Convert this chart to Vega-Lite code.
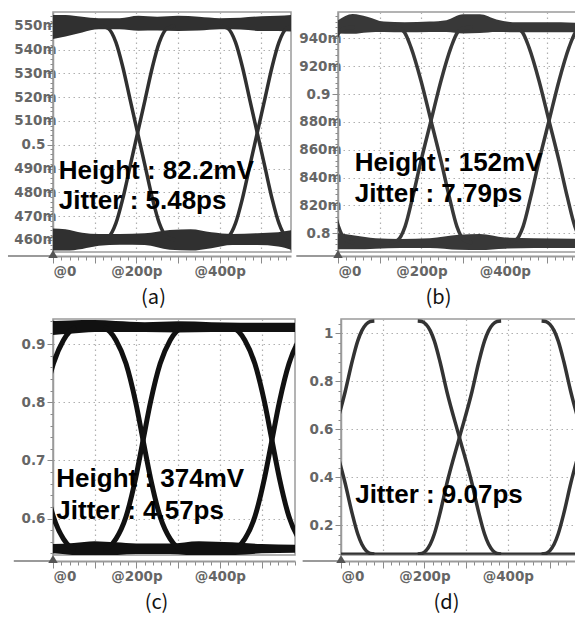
{
  "$schema": "https://vega.github.io/schema/vega-lite/v6.json",
  "background": "white",
  "padding": {"top": 8, "left": 0, "right": 0, "bottom": 0},
  "datasets": {
    "a_band": [
      {"band":"top","t":0,"v":0.5445,"v2":0.5545},{"band":"top","t":30,"v":0.5455,"v2":0.5545},{"band":"top","t":70,"v":0.5472,"v2":0.5538},{"band":"top","t":110,"v":0.5485,"v2":0.5532},{"band":"top","t":160,"v":0.5485,"v2":0.5532},{"band":"top","t":205,"v":0.5479,"v2":0.5542},{"band":"top","t":250,"v":0.548,"v2":0.5538},{"band":"top","t":300,"v":0.5478,"v2":0.5542},{"band":"top","t":350,"v":0.548,"v2":0.5538},{"band":"top","t":400,"v":0.5486,"v2":0.5532},{"band":"top","t":450,"v":0.5484,"v2":0.5534},{"band":"top","t":500,"v":0.5478,"v2":0.554},{"band":"top","t":540,"v":0.5478,"v2":0.5542},{"band":"top","t":571,"v":0.5476,"v2":0.5545},
      {"band":"bottom","t":0,"v":0.4555,"v2":0.4648},{"band":"bottom","t":30,"v":0.4555,"v2":0.4645},{"band":"bottom","t":70,"v":0.4562,"v2":0.463},{"band":"bottom","t":110,"v":0.4575,"v2":0.4625},{"band":"bottom","t":160,"v":0.458,"v2":0.4625},{"band":"bottom","t":220,"v":0.4578,"v2":0.4628},{"band":"bottom","t":280,"v":0.4558,"v2":0.4642},{"band":"bottom","t":330,"v":0.4555,"v2":0.4645},{"band":"bottom","t":380,"v":0.4565,"v2":0.4632},{"band":"bottom","t":430,"v":0.4578,"v2":0.4625},{"band":"bottom","t":490,"v":0.4578,"v2":0.4628},{"band":"bottom","t":540,"v":0.4572,"v2":0.4632},{"band":"bottom","t":571,"v":0.4558,"v2":0.464}
    ],
    "a_edge": [
      {"id":"f0","t":-102,"v":0.519},{"id":"f0","t":-84,"v":0.505},{"id":"f0","t":-66,"v":0.491},{"id":"f0","t":-48,"v":0.477},{"id":"f0","t":-32,"v":0.467},{"id":"f0","t":-14,"v":0.4612},{"id":"f0","t":6,"v":0.46},
      {"id":"r0","t":-102,"v":0.491},{"id":"r0","t":-84,"v":0.505},{"id":"r0","t":-66,"v":0.519},{"id":"r0","t":-48,"v":0.533},{"id":"r0","t":-32,"v":0.543},{"id":"r0","t":-14,"v":0.5488},{"id":"r0","t":6,"v":0.55},
      {"id":"f1","t":113,"v":0.55},{"id":"f1","t":133,"v":0.5488},{"id":"f1","t":151,"v":0.543},{"id":"f1","t":167,"v":0.533},{"id":"f1","t":185,"v":0.519},{"id":"f1","t":203,"v":0.505},{"id":"f1","t":221,"v":0.491},{"id":"f1","t":239,"v":0.477},{"id":"f1","t":255,"v":0.467},{"id":"f1","t":273,"v":0.4612},{"id":"f1","t":293,"v":0.46},
      {"id":"r1","t":113,"v":0.46},{"id":"r1","t":133,"v":0.4612},{"id":"r1","t":151,"v":0.467},{"id":"r1","t":167,"v":0.477},{"id":"r1","t":185,"v":0.491},{"id":"r1","t":203,"v":0.505},{"id":"r1","t":221,"v":0.519},{"id":"r1","t":239,"v":0.533},{"id":"r1","t":255,"v":0.543},{"id":"r1","t":273,"v":0.5488},{"id":"r1","t":293,"v":0.55},
      {"id":"f2","t":400,"v":0.55},{"id":"f2","t":420,"v":0.5488},{"id":"f2","t":438,"v":0.543},{"id":"f2","t":454,"v":0.533},{"id":"f2","t":472,"v":0.519},{"id":"f2","t":490,"v":0.505},{"id":"f2","t":508,"v":0.491},{"id":"f2","t":526,"v":0.477},{"id":"f2","t":542,"v":0.467},{"id":"f2","t":560,"v":0.4612},{"id":"f2","t":580,"v":0.46},
      {"id":"r2","t":400,"v":0.46},{"id":"r2","t":420,"v":0.4612},{"id":"r2","t":438,"v":0.467},{"id":"r2","t":454,"v":0.477},{"id":"r2","t":472,"v":0.491},{"id":"r2","t":490,"v":0.505},{"id":"r2","t":508,"v":0.519},{"id":"r2","t":526,"v":0.533},{"id":"r2","t":542,"v":0.543},{"id":"r2","t":560,"v":0.5488},{"id":"r2","t":580,"v":0.55}
    ],
    "a_note": [
      {"t":14,"v":0.4856,"label":"Height : 82.2mV"},
      {"t":14,"v":0.473,"label":"Jitter : 5.48ps"}
    ],
    "a_axis": [{"t":-108,"t2":0,"v":0.4549}],
    "b_band": [
      {"band":"top","t":0,"v":0.9435,"v2":0.953},{"band":"top","t":35,"v":0.9432,"v2":0.9575},{"band":"top","t":70,"v":0.9442,"v2":0.9555},{"band":"top","t":110,"v":0.9445,"v2":0.952},{"band":"top","t":160,"v":0.9443,"v2":0.9515},{"band":"top","t":220,"v":0.9445,"v2":0.952},{"band":"top","t":260,"v":0.9445,"v2":0.953},{"band":"top","t":300,"v":0.9435,"v2":0.9572},{"band":"top","t":340,"v":0.9438,"v2":0.9572},{"band":"top","t":380,"v":0.9445,"v2":0.9535},{"band":"top","t":430,"v":0.9443,"v2":0.9515},{"band":"top","t":500,"v":0.9443,"v2":0.9515},{"band":"top","t":576,"v":0.9443,"v2":0.9512},
      {"band":"bottom","t":0,"v":0.7885,"v2":0.8},{"band":"bottom","t":40,"v":0.7885,"v2":0.7985},{"band":"bottom","t":90,"v":0.789,"v2":0.7965},{"band":"bottom","t":150,"v":0.7895,"v2":0.796},{"band":"bottom","t":220,"v":0.7895,"v2":0.7965},{"band":"bottom","t":290,"v":0.7882,"v2":0.799},{"band":"bottom","t":340,"v":0.788,"v2":0.7995},{"band":"bottom","t":400,"v":0.789,"v2":0.797},{"band":"bottom","t":470,"v":0.7895,"v2":0.7965},{"band":"bottom","t":576,"v":0.7895,"v2":0.796}
    ],
    "b_edge": [
      {"id":"f0","t":-85,"v":0.9096},{"id":"f0","t":-61,"v":0.8808},{"id":"f0","t":-37,"v":0.852},{"id":"f0","t":-17,"v":0.826},{"id":"f0","t":1,"v":0.805},{"id":"f0","t":19,"v":0.795},{"id":"f0","t":39,"v":0.793},
      {"id":"r0","t":-85,"v":0.852},{"id":"r0","t":-61,"v":0.8808},{"id":"r0","t":-37,"v":0.9096},{"id":"r0","t":-13,"v":0.9335},{"id":"r0","t":3,"v":0.9445},{"id":"r0","t":19,"v":0.9475},{"id":"r0","t":39,"v":0.948},
      {"id":"f1","t":123,"v":0.948},{"id":"f1","t":143,"v":0.9475},{"id":"f1","t":159,"v":0.9445},{"id":"f1","t":175,"v":0.9335},{"id":"f1","t":199,"v":0.9096},{"id":"f1","t":223,"v":0.8808},{"id":"f1","t":247,"v":0.852},{"id":"f1","t":267,"v":0.826},{"id":"f1","t":285,"v":0.805},{"id":"f1","t":303,"v":0.795},{"id":"f1","t":323,"v":0.793},
      {"id":"r1","t":123,"v":0.793},{"id":"r1","t":143,"v":0.795},{"id":"r1","t":161,"v":0.805},{"id":"r1","t":179,"v":0.826},{"id":"r1","t":199,"v":0.852},{"id":"r1","t":223,"v":0.8808},{"id":"r1","t":247,"v":0.9096},{"id":"r1","t":271,"v":0.9335},{"id":"r1","t":287,"v":0.9445},{"id":"r1","t":303,"v":0.9475},{"id":"r1","t":323,"v":0.948},
      {"id":"f2","t":406,"v":0.948},{"id":"f2","t":426,"v":0.9475},{"id":"f2","t":442,"v":0.9445},{"id":"f2","t":458,"v":0.9335},{"id":"f2","t":482,"v":0.9096},{"id":"f2","t":506,"v":0.8808},{"id":"f2","t":530,"v":0.852},{"id":"f2","t":550,"v":0.826},{"id":"f2","t":568,"v":0.805},{"id":"f2","t":586,"v":0.795},{"id":"f2","t":606,"v":0.793},
      {"id":"r2","t":406,"v":0.793},{"id":"r2","t":426,"v":0.795},{"id":"r2","t":444,"v":0.805},{"id":"r2","t":462,"v":0.826},{"id":"r2","t":482,"v":0.852},{"id":"r2","t":506,"v":0.8808},{"id":"r2","t":530,"v":0.9096},{"id":"r2","t":554,"v":0.9335},{"id":"r2","t":570,"v":0.9445},{"id":"r2","t":586,"v":0.9475},{"id":"r2","t":606,"v":0.948}
    ],
    "b_note": [
      {"t":40,"v":0.845,"label":"Height : 152mV"},
      {"t":40,"v":0.8223,"label":"Jitter : 7.79ps"}
    ],
    "b_axis": [{"t":-100,"t2":0,"v":0.7866}],
    "c_band": [
      {"band":"top","t":0,"v":0.916,"v2":0.94},{"band":"top","t":40,"v":0.918,"v2":0.941},{"band":"top","t":100,"v":0.921,"v2":0.9415},{"band":"top","t":150,"v":0.921,"v2":0.94},{"band":"top","t":220,"v":0.921,"v2":0.938},{"band":"top","t":300,"v":0.92,"v2":0.9395},{"band":"top","t":380,"v":0.921,"v2":0.938},{"band":"top","t":450,"v":0.921,"v2":0.937},{"band":"top","t":530,"v":0.921,"v2":0.937},{"band":"top","t":581,"v":0.921,"v2":0.937},
      {"band":"bottom","t":0,"v":0.54,"v2":0.556},{"band":"bottom","t":50,"v":0.537,"v2":0.558},{"band":"bottom","t":100,"v":0.535,"v2":0.561},{"band":"bottom","t":150,"v":0.537,"v2":0.559},{"band":"bottom","t":200,"v":0.539,"v2":0.557},{"band":"bottom","t":280,"v":0.539,"v2":0.557},{"band":"bottom","t":350,"v":0.536,"v2":0.561},{"band":"bottom","t":430,"v":0.537,"v2":0.559},{"band":"bottom","t":500,"v":0.54,"v2":0.556},{"band":"bottom","t":581,"v":0.541,"v2":0.555}
    ],
    "c_edge": [
      {"id":"f0","t":-58,"v":0.8009},{"id":"f0","t":-40,"v":0.7348},{"id":"f0","t":-22,"v":0.6689},{"id":"f0","t":1,"v":0.603},{"id":"f0","t":25,"v":0.565},{"id":"f0","t":40,"v":0.552},{"id":"f0","t":55,"v":0.548},
      {"id":"r0","t":-58,"v":0.6689},{"id":"r0","t":-40,"v":0.7348},{"id":"r0","t":-22,"v":0.8009},{"id":"r0","t":1,"v":0.8666},{"id":"r0","t":25,"v":0.907},{"id":"r0","t":40,"v":0.922},{"id":"r0","t":55,"v":0.929},
      {"id":"f1","t":121,"v":0.929},{"id":"f1","t":136,"v":0.922},{"id":"f1","t":151,"v":0.907},{"id":"f1","t":175,"v":0.8666},{"id":"f1","t":198,"v":0.8009},{"id":"f1","t":216,"v":0.7348},{"id":"f1","t":234,"v":0.6689},{"id":"f1","t":257,"v":0.603},{"id":"f1","t":281,"v":0.565},{"id":"f1","t":296,"v":0.552},{"id":"f1","t":311,"v":0.548},
      {"id":"r1","t":121,"v":0.548},{"id":"r1","t":136,"v":0.552},{"id":"r1","t":151,"v":0.565},{"id":"r1","t":175,"v":0.603},{"id":"r1","t":198,"v":0.6689},{"id":"r1","t":216,"v":0.7348},{"id":"r1","t":234,"v":0.8009},{"id":"r1","t":257,"v":0.8666},{"id":"r1","t":281,"v":0.907},{"id":"r1","t":296,"v":0.922},{"id":"r1","t":311,"v":0.929},
      {"id":"f2","t":430,"v":0.929},{"id":"f2","t":445,"v":0.922},{"id":"f2","t":460,"v":0.907},{"id":"f2","t":484,"v":0.8666},{"id":"f2","t":507,"v":0.8009},{"id":"f2","t":525,"v":0.7348},{"id":"f2","t":543,"v":0.6689},{"id":"f2","t":566,"v":0.603},{"id":"f2","t":590,"v":0.565},{"id":"f2","t":605,"v":0.552},{"id":"f2","t":620,"v":0.548},
      {"id":"r2","t":430,"v":0.548},{"id":"r2","t":445,"v":0.552},{"id":"r2","t":460,"v":0.565},{"id":"r2","t":484,"v":0.603},{"id":"r2","t":507,"v":0.6689},{"id":"r2","t":525,"v":0.7348},{"id":"r2","t":543,"v":0.8009},{"id":"r2","t":566,"v":0.8666},{"id":"r2","t":590,"v":0.907},{"id":"r2","t":605,"v":0.922},{"id":"r2","t":620,"v":0.929}
    ],
    "c_note": [
      {"t":8,"v":0.6546,"label":"Height : 374mV"},
      {"t":8,"v":0.6,"label":"Jitter : 4.57ps"}
    ],
    "c_axis": [{"t":-94,"t2":0,"v":0.5372}],
    "d_band": [
      {"band":"bottom","t":0,"v":0.077,"v2":0.0855},{"band":"bottom","t":300,"v":0.077,"v2":0.0855},{"band":"bottom","t":586,"v":0.077,"v2":0.0855}
    ],
    "d_edge": [
      {"id":"f0","t":-50,"v":0.757},{"id":"f0","t":-20,"v":0.566},{"id":"f0","t":10,"v":0.375},{"id":"f0","t":27,"v":0.247},{"id":"f0","t":40,"v":0.164},{"id":"f0","t":50,"v":0.12},{"id":"f0","t":60,"v":0.094},{"id":"f0","t":70,"v":0.082},{"id":"f0","t":80,"v":0.08},
      {"id":"r0","t":-50,"v":0.375},{"id":"r0","t":-20,"v":0.566},{"id":"r0","t":10,"v":0.757},{"id":"r0","t":27,"v":0.885},{"id":"r0","t":40,"v":0.968},{"id":"r0","t":50,"v":1.012},{"id":"r0","t":60,"v":1.038},{"id":"r0","t":70,"v":1.05},{"id":"r0","t":80,"v":1.052},
      {"id":"f1","t":184,"v":1.052},{"id":"f1","t":194,"v":1.05},{"id":"f1","t":204,"v":1.038},{"id":"f1","t":214,"v":1.012},{"id":"f1","t":224,"v":0.968},{"id":"f1","t":237,"v":0.885},{"id":"f1","t":254,"v":0.757},{"id":"f1","t":284,"v":0.566},{"id":"f1","t":314,"v":0.375},{"id":"f1","t":331,"v":0.247},{"id":"f1","t":344,"v":0.164},{"id":"f1","t":354,"v":0.12},{"id":"f1","t":364,"v":0.094},{"id":"f1","t":374,"v":0.082},{"id":"f1","t":384,"v":0.08},
      {"id":"r1","t":184,"v":0.08},{"id":"r1","t":194,"v":0.082},{"id":"r1","t":204,"v":0.094},{"id":"r1","t":214,"v":0.12},{"id":"r1","t":224,"v":0.164},{"id":"r1","t":237,"v":0.247},{"id":"r1","t":254,"v":0.375},{"id":"r1","t":284,"v":0.566},{"id":"r1","t":314,"v":0.757},{"id":"r1","t":331,"v":0.885},{"id":"r1","t":344,"v":0.968},{"id":"r1","t":354,"v":1.012},{"id":"r1","t":364,"v":1.038},{"id":"r1","t":374,"v":1.05},{"id":"r1","t":384,"v":1.052},
      {"id":"f2","t":481,"v":1.052},{"id":"f2","t":491,"v":1.05},{"id":"f2","t":501,"v":1.038},{"id":"f2","t":511,"v":1.012},{"id":"f2","t":521,"v":0.968},{"id":"f2","t":534,"v":0.885},{"id":"f2","t":551,"v":0.757},{"id":"f2","t":581,"v":0.566},{"id":"f2","t":611,"v":0.375},
      {"id":"r2","t":481,"v":0.08},{"id":"r2","t":491,"v":0.082},{"id":"r2","t":501,"v":0.094},{"id":"r2","t":511,"v":0.12},{"id":"r2","t":521,"v":0.164},{"id":"r2","t":534,"v":0.247},{"id":"r2","t":551,"v":0.375},{"id":"r2","t":581,"v":0.566},{"id":"r2","t":611,"v":0.757}
    ],
    "d_note": [
      {"t":34,"v":0.2905,"label":"Jitter : 9.07ps"}
    ],
    "d_axis": [{"t":-92,"t2":0,"v":0.0755}]
  },
  "vconcat": [
    {
      "hconcat": [
        {
          "width": 238, "height": 240,
          "encoding": {
            "x": {"field": "t", "type": "quantitative", "scale": {"domain": [0, 571], "nice": false, "zero": false},
              "axis": {"values": [0,20,40,60,80,100,120,140,160,180,200,220,240,260,280,300,320,340,360,380,400,420,440,460,480,500,520,540,560],
                "labelExpr": "datum.value == 0 ? '@0' : datum.value == 200 ? '@200p' : datum.value == 400 ? '@400p' : ''",
                "tickSize": {"condition": {"test": "datum.value % 100 == 0", "value": 7}, "value": 4},
                "gridOpacity": {"condition": {"test": "datum.value % 100 == 0 && datum.value > 0", "value": 1}, "value": 0},
                "title": "(a)", "titleX": 100, "offset": 4}},
            "y": {"field": "v", "type": "quantitative", "scale": {"domain": [0.4549, 0.5558], "nice": false, "zero": false},
              "axis": {"values": [0.456,0.458,0.46,0.462,0.464,0.466,0.468,0.47,0.472,0.474,0.476,0.478,0.48,0.482,0.484,0.486,0.488,0.49,0.492,0.494,0.496,0.498,0.5,0.502,0.504,0.506,0.508,0.51,0.512,0.514,0.516,0.518,0.52,0.522,0.524,0.526,0.528,0.53,0.532,0.534,0.536,0.538,0.54,0.542,0.544,0.546,0.548,0.55,0.552,0.554],
                "labelExpr": "abs(datum.value*100 - round(datum.value*100)) < 0.001 ? (abs(datum.value*10 - round(datum.value*10)) < 0.001 ? format(datum.value, '.1~f') : round(datum.value*1000) + 'm') : ''",
                "tickSize": {"condition": {"test": "abs(datum.value*100 - round(datum.value*100)) < 0.001", "value": 6}, "value": 3},
                "gridOpacity": {"condition": {"test": "abs(datum.value*100 - round(datum.value*100)) < 0.001", "value": 1}, "value": 0},
                "labelPadding": {"condition": {"test": "abs(datum.value*10 - round(datum.value*10)) < 0.001", "value": 2}, "value": -9},
                "title": null, "minExtent": 52, "maxExtent": 52}}
          },
          "layer": [
            {"data": {"name": "a_band"}, "mark": {"type": "area", "interpolate": "monotone", "clip": true, "color": "#303030"}, "encoding": {"y2": {"field": "v2"}, "detail": {"field": "band", "type": "nominal"}}},
            {"data": {"name": "a_edge"}, "mark": {"type": "line", "interpolate": "monotone", "clip": true, "color": "#303030", "strokeWidth": 3.5}, "encoding": {"detail": {"field": "id", "type": "nominal"}}},
            {"data": {"name": "a_note"}, "mark": {"type": "text", "align": "left", "baseline": "alphabetic", "font": "Liberation Sans", "fontWeight": "bold", "fontSize": 26, "color": "#000"}, "encoding": {"text": {"field": "label", "type": "nominal"}}},
            {"data": {"name": "a_axis"}, "mark": {"type": "rule", "color": "#9a9a9a", "strokeWidth": 2, "yOffset": 4, "clip": false}, "encoding": {"x2": {"field": "t2"}}},
            {"data": {"name": "a_axis"}, "mark": {"type": "point", "shape": "triangle-up", "filled": true, "color": "#555", "opacity": 1, "size": 90, "yOffset": 2, "clip": false}, "encoding": {"x": {"field": "t2", "type": "quantitative"}}}
          ]
        },
        {
          "width": 240, "height": 240,
          "encoding": {
            "x": {"field": "t", "type": "quantitative", "scale": {"domain": [0, 575.5], "nice": false, "zero": false},
              "axis": {"values": [0,20,40,60,80,100,120,140,160,180,200,220,240,260,280,300,320,340,360,380,400,420,440,460,480,500,520,540,560],
                "labelExpr": "datum.value == 0 ? '@0' : datum.value == 200 ? '@200p' : datum.value == 400 ? '@400p' : ''",
                "tickSize": {"condition": {"test": "datum.value % 100 == 0", "value": 7}, "value": 4},
                "gridOpacity": {"condition": {"test": "datum.value % 100 == 0 && datum.value > 0", "value": 1}, "value": 0},
                "title": "(b)", "titleX": 100, "offset": 4}},
            "y": {"field": "v", "type": "quantitative", "scale": {"domain": [0.7866, 0.9589], "nice": false, "zero": false},
              "axis": {"values": [0.788,0.792,0.796,0.8,0.804,0.808,0.812,0.816,0.82,0.824,0.828,0.832,0.836,0.84,0.844,0.848,0.852,0.856,0.86,0.864,0.868,0.872,0.876,0.88,0.884,0.888,0.892,0.896,0.9,0.904,0.908,0.912,0.916,0.92,0.924,0.928,0.932,0.936,0.94,0.944,0.948,0.952,0.956],
                "labelExpr": "abs(datum.value*50 - round(datum.value*50)) < 0.001 ? (abs(datum.value*10 - round(datum.value*10)) < 0.001 ? format(datum.value, '.1~f') : round(datum.value*1000) + 'm') : ''",
                "tickSize": {"condition": {"test": "abs(datum.value*50 - round(datum.value*50)) < 0.001", "value": 6}, "value": 3},
                "gridOpacity": {"condition": {"test": "abs(datum.value*50 - round(datum.value*50)) < 0.001", "value": 1}, "value": 0},
                "labelPadding": {"condition": {"test": "abs(datum.value*10 - round(datum.value*10)) < 0.001", "value": 2}, "value": -9},
                "title": null, "minExtent": 45, "maxExtent": 45}}
          },
          "layer": [
            {"data": {"name": "b_band"}, "mark": {"type": "area", "interpolate": "monotone", "clip": true, "color": "#383838"}, "encoding": {"y2": {"field": "v2"}, "detail": {"field": "band", "type": "nominal"}}},
            {"data": {"name": "b_edge"}, "mark": {"type": "line", "interpolate": "monotone", "clip": true, "color": "#383838", "strokeWidth": 3.5}, "encoding": {"detail": {"field": "id", "type": "nominal"}}},
            {"data": {"name": "b_note"}, "mark": {"type": "text", "align": "left", "baseline": "alphabetic", "font": "Liberation Sans", "fontWeight": "bold", "fontSize": 26, "color": "#000"}, "encoding": {"text": {"field": "label", "type": "nominal"}}},
            {"data": {"name": "b_axis"}, "mark": {"type": "rule", "color": "#9a9a9a", "strokeWidth": 2, "yOffset": 4, "clip": false}, "encoding": {"x2": {"field": "t2"}}},
            {"data": {"name": "b_axis"}, "mark": {"type": "point", "shape": "triangle-up", "filled": true, "color": "#555", "opacity": 1, "size": 90, "yOffset": 2, "clip": false}, "encoding": {"x": {"field": "t2", "type": "quantitative"}}}
          ]
        }
      ],
      "spacing": 0
    },
    {
      "hconcat": [
        {
          "width": 242, "height": 236,
          "encoding": {
            "x": {"field": "t", "type": "quantitative", "scale": {"domain": [0, 580.3], "nice": false, "zero": false},
              "axis": {"values": [0,20,40,60,80,100,120,140,160,180,200,220,240,260,280,300,320,340,360,380,400,420,440,460,480,500,520,540,560,580],
                "labelExpr": "datum.value == 0 ? '@0' : datum.value == 200 ? '@200p' : datum.value == 400 ? '@400p' : ''",
                "tickSize": {"condition": {"test": "datum.value % 100 == 0", "value": 7}, "value": 4},
                "gridOpacity": {"condition": {"test": "datum.value % 100 == 0 && datum.value > 0", "value": 1}, "value": 0},
                "title": "(c)", "titleX": 103, "offset": 6}},
            "y": {"field": "v", "type": "quantitative", "scale": {"domain": [0.5372, 0.9434], "nice": false, "zero": false},
              "axis": {"values": [0.54,0.56,0.58,0.6,0.62,0.64,0.66,0.68,0.7,0.72,0.74,0.76,0.78,0.8,0.82,0.84,0.86,0.88,0.9,0.92,0.94],
                "labelExpr": "abs(datum.value*10 - round(datum.value*10)) < 0.001 ? format(datum.value, '.1~f') : ''",
                "tickSize": {"condition": {"test": "abs(datum.value*10 - round(datum.value*10)) < 0.001", "value": 6}, "value": 3},
                "gridOpacity": {"condition": {"test": "abs(datum.value*10 - round(datum.value*10)) < 0.001", "value": 1}, "value": 0},
                "labelPadding": 2,
                "title": null, "minExtent": 46, "maxExtent": 46}}
          },
          "layer": [
            {"data": {"name": "c_band"}, "mark": {"type": "area", "interpolate": "monotone", "clip": true, "color": "#111111"}, "encoding": {"y2": {"field": "v2"}, "detail": {"field": "band", "type": "nominal"}}},
            {"data": {"name": "c_edge"}, "mark": {"type": "line", "interpolate": "monotone", "clip": true, "color": "#111111", "strokeWidth": 5}, "encoding": {"detail": {"field": "id", "type": "nominal"}}},
            {"data": {"name": "c_note"}, "mark": {"type": "text", "align": "left", "baseline": "alphabetic", "font": "Liberation Sans", "fontWeight": "bold", "fontSize": 26, "color": "#000"}, "encoding": {"text": {"field": "label", "type": "nominal"}}},
            {"data": {"name": "c_axis"}, "mark": {"type": "rule", "color": "#9a9a9a", "strokeWidth": 2, "yOffset": 6, "clip": false}, "encoding": {"x2": {"field": "t2"}}},
            {"data": {"name": "c_axis"}, "mark": {"type": "point", "shape": "triangle-up", "filled": true, "color": "#555", "opacity": 1, "size": 90, "yOffset": 4, "clip": false}, "encoding": {"x": {"field": "t2", "type": "quantitative"}}}
          ]
        },
        {
          "width": 244, "height": 236,
          "encoding": {
            "x": {"field": "t", "type": "quantitative", "scale": {"domain": [0, 585.1], "nice": false, "zero": false},
              "axis": {"values": [0,20,40,60,80,100,120,140,160,180,200,220,240,260,280,300,320,340,360,380,400,420,440,460,480,500,520,540,560,580],
                "labelExpr": "datum.value == 0 ? '@0' : datum.value == 200 ? '@200p' : datum.value == 400 ? '@400p' : ''",
                "tickSize": {"condition": {"test": "datum.value % 100 == 0", "value": 7}, "value": 4},
                "gridOpacity": {"condition": {"test": "datum.value % 100 == 0 && datum.value > 0", "value": 1}, "value": 0},
                "title": "(d)", "titleX": 105, "offset": 6}},
            "y": {"field": "v", "type": "quantitative", "scale": {"domain": [0.0755, 1.0605], "nice": false, "zero": false},
              "axis": {"values": [0.08,0.12,0.16,0.2,0.24,0.28,0.32,0.36,0.4,0.44,0.48,0.52,0.56,0.6,0.64,0.68,0.72,0.76,0.8,0.84,0.88,0.92,0.96,1,1.04],
                "labelExpr": "abs(datum.value*5 - round(datum.value*5)) < 0.001 ? format(datum.value, '.1~f') : ''",
                "tickSize": {"condition": {"test": "abs(datum.value*5 - round(datum.value*5)) < 0.001", "value": 6}, "value": 3},
                "gridOpacity": {"condition": {"test": "abs(datum.value*5 - round(datum.value*5)) < 0.001", "value": 1}, "value": 0},
                "labelPadding": 2,
                "title": null, "minExtent": 43, "maxExtent": 43}}
          },
          "layer": [
            {"data": {"name": "d_band"}, "mark": {"type": "area", "interpolate": "monotone", "clip": true, "color": "#333333"}, "encoding": {"y2": {"field": "v2"}, "detail": {"field": "band", "type": "nominal"}}},
            {"data": {"name": "d_edge"}, "mark": {"type": "line", "interpolate": "monotone", "clip": true, "color": "#333333", "strokeWidth": 3.5}, "encoding": {"detail": {"field": "id", "type": "nominal"}}},
            {"data": {"name": "d_note"}, "mark": {"type": "text", "align": "left", "baseline": "alphabetic", "font": "Liberation Sans", "fontWeight": "bold", "fontSize": 26, "color": "#000"}, "encoding": {"text": {"field": "label", "type": "nominal"}}},
            {"data": {"name": "d_axis"}, "mark": {"type": "rule", "color": "#9a9a9a", "strokeWidth": 2, "yOffset": 6, "clip": false}, "encoding": {"x2": {"field": "t2"}}},
            {"data": {"name": "d_axis"}, "mark": {"type": "point", "shape": "triangle-up", "filled": true, "color": "#555", "opacity": 1, "size": 90, "yOffset": 4, "clip": false}, "encoding": {"x": {"field": "t2", "type": "quantitative"}}}
          ]
        }
      ],
      "spacing": 0
    }
  ],
  "spacing": 4,
  "config": {
    "view": {"stroke": "#9a9a9a", "strokeWidth": 1.5},
    "axis": {"domainColor": "#9a9a9a", "tickColor": "#8a8a8a", "gridColor": "#b0b0b0", "gridDash": [1.5, 3.5], "gridWidth": 1.2,
      "labelFont": "DejaVu Sans", "labelFontWeight": "bold", "labelFontSize": 13.5, "labelColor": "#666666",
      "titleFont": "Noto Sans CJK KR", "titleFontWeight": "normal", "titleFontSize": 20, "titleColor": "#111111", "labelOverlap": false},
    "axisX": {"domainWidth": 2, "labelFlush": true, "labelPadding": 1, "titlePadding": 10},
    "axisY": {"domainWidth": 1.5}
  }
}
